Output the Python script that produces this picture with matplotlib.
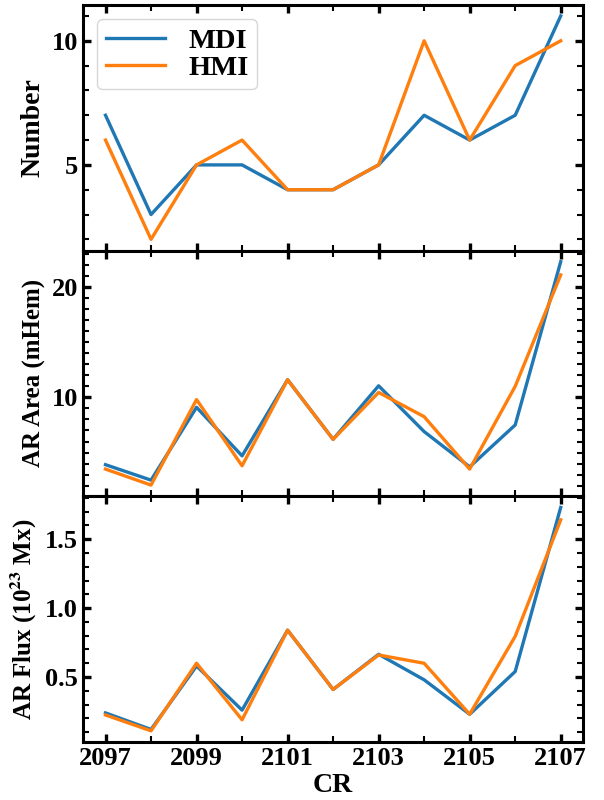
import matplotlib
matplotlib.use('Agg')
import matplotlib.pyplot as plt
from matplotlib.ticker import MultipleLocator

cr = [2097, 2098, 2099, 2100, 2101, 2102, 2103, 2104, 2105, 2106, 2107]

num_mdi = [7, 3, 5, 5, 4, 4, 5, 7, 6, 7, 11]
num_hmi = [6, 2, 5, 6, 4, 4, 5, 10, 6, 9, 10]

area_mdi = [3.9, 2.5, 9.1, 4.7, 11.6, 6.2, 11.05, 6.9, 3.7, 7.5, 22.3]
area_hmi = [3.5, 2.05, 9.8, 3.8, 11.6, 6.2, 10.45, 8.25, 3.5, 11.0, 21.1]

flux_mdi = [0.24, 0.12, 0.58, 0.26, 0.84, 0.41, 0.665, 0.48, 0.23, 0.54, 1.73]
flux_hmi = [0.225, 0.11, 0.60, 0.19, 0.84, 0.41, 0.66, 0.60, 0.23, 0.795, 1.64]

plt.rcParams['font.family'] = ['Liberation Serif', 'DejaVu Serif']
plt.rcParams['font.weight'] = 'bold'
plt.rcParams['mathtext.fontset'] = 'stix'
plt.rcParams['mathtext.default'] = 'bf'

fig, axs = plt.subplots(3, 1, figsize=(6.04, 8), dpi=100, sharex=True)
fig.subplots_adjust(left=0.137, right=0.966, top=0.994, bottom=0.0725, hspace=0)

lw = 2.4
axs[0].plot(cr, num_mdi, color='#1f77b4', lw=lw, label='MDI')
axs[0].plot(cr, num_hmi, color='#ff7f0e', lw=lw, label='HMI')
axs[1].plot(cr, area_mdi, color='#1f77b4', lw=lw)
axs[1].plot(cr, area_hmi, color='#ff7f0e', lw=lw)
axs[2].plot(cr, flux_mdi, color='#1f77b4', lw=lw)
axs[2].plot(cr, flux_hmi, color='#ff7f0e', lw=lw)

axs[0].set_ylabel('Number', fontsize=20, fontweight='bold')
axs[1].set_ylabel('AR Area (mHem)', fontsize=18, fontweight='bold')
axs[2].set_ylabel(r'AR Flux (10$^{23}$ Mx)', fontsize=18, fontweight='bold')
axs[2].set_xlabel('CR', fontsize=20, fontweight='bold', labelpad=2)

axs[0].yaxis.set_major_locator(MultipleLocator(5))
axs[0].yaxis.set_minor_locator(MultipleLocator(1))
axs[1].yaxis.set_major_locator(MultipleLocator(10))
axs[1].yaxis.set_minor_locator(MultipleLocator(1))
axs[2].yaxis.set_major_locator(MultipleLocator(0.5))
axs[2].yaxis.set_minor_locator(MultipleLocator(0.1))
axs[2].set_xticks([2097, 2099, 2101, 2103, 2105, 2107])
axs[2].xaxis.set_minor_locator(MultipleLocator(1))

for ax in axs:
    for s in ax.spines.values():
        s.set_linewidth(2.2)
    ax.tick_params(which='both', direction='in', top=True, right=True, labelsize=19)
    ax.tick_params(which='major', length=6, width=2.4)
    ax.tick_params(which='minor', length=4, width=1.5)
    for lab in ax.get_xticklabels() + ax.get_yticklabels():
        lab.set_fontweight('bold')

leg = axs[0].legend(loc='upper left', handlelength=2.1, labelspacing=0.05,
                    borderpad=0.3, handletextpad=0.8,
                    prop={'weight': 'bold', 'size': 20.5})
leg.get_frame().set_linewidth(1.0)

fig.savefig('out.png', dpi=100)
